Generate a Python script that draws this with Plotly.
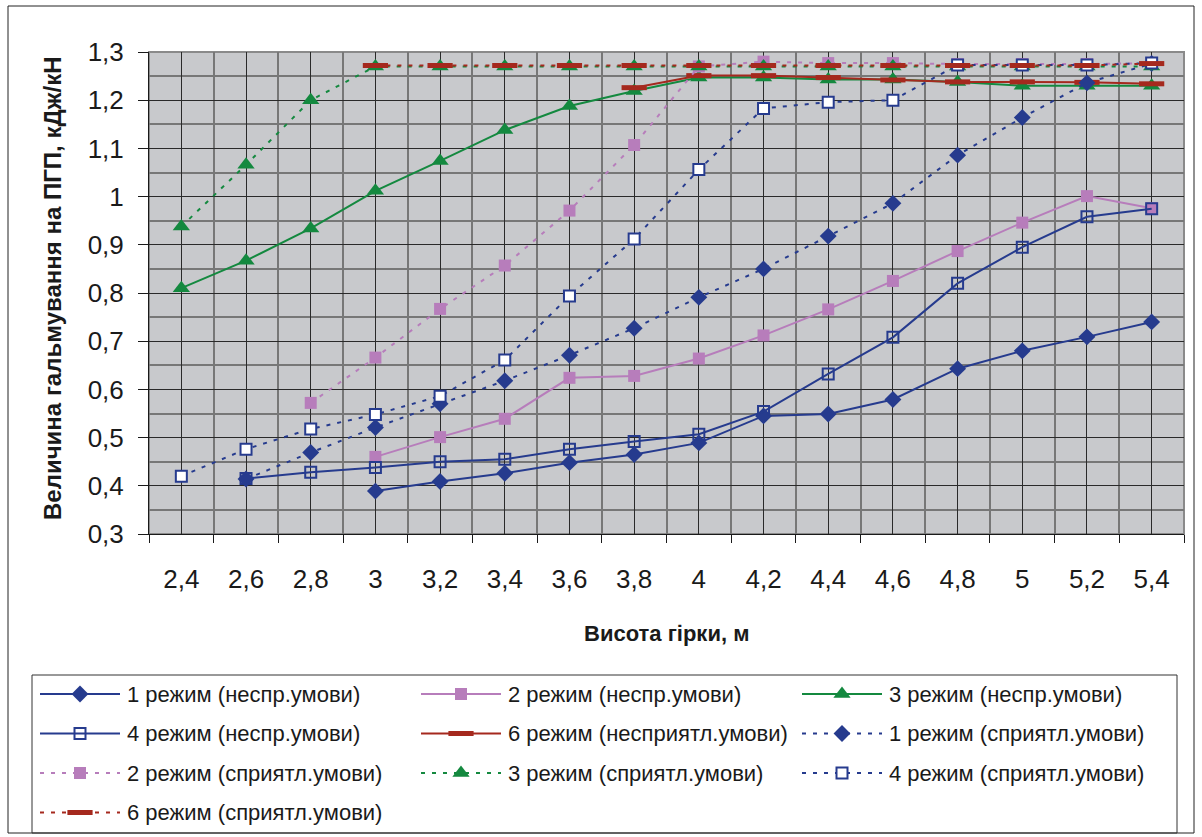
import plotly.graph_objects as go

# Висота гірки, м
heights = [2.4, 2.6, 2.8, 3.0, 3.2, 3.4, 3.6, 3.8, 4.0, 4.2, 4.4, 4.6, 4.8, 5.0, 5.2, 5.4]
height_labels = ["2,4", "2,6", "2,8", "3", "3,2", "3,4", "3,6", "3,8", "4",
                 "4,2", "4,4", "4,6", "4,8", "5", "5,2", "5,4"]

# Величина гальмування, кДж/кН — несприятливі умови
mode1_nesp = [None, None, None, 0.389, 0.409, 0.426, 0.448, 0.465, 0.489, 0.545, 0.549, 0.579, 0.643, 0.680, 0.709, 0.740]
mode2_nesp = [None, None, None, 0.460, 0.501, 0.539, 0.624, 0.628, 0.664, 0.712, 0.766, 0.825, 0.887, 0.946, 1.001, 0.976]
mode3_nesp = [0.810, 0.867, 0.934, 1.012, 1.074, 1.138, 1.188, 1.219, 1.247, 1.247, 1.243, 1.243, 1.238, 1.230, 1.230, 1.230]
mode4_nesp = [None, 0.415, 0.428, 0.438, 0.450, 0.455, 0.476, 0.492, 0.507, 0.554, 0.632, 0.708, 0.820, 0.895, 0.958, 0.975]
mode6_nesp = [None, None, None, None, None, None, None, 1.226, 1.251, 1.251, 1.247, 1.242, 1.238, 1.238, 1.237, 1.234]

# Сприятливі умови
mode1_spr = [None, 0.414, 0.469, 0.521, 0.570, 0.618, 0.671, 0.727, 0.791, 0.850, 0.918, 0.986, 1.086, 1.164, 1.236, 1.276]
mode2_spr = [None, None, 0.572, 0.666, 0.767, 0.857, 0.971, 1.107, 1.270, 1.280, 1.277, 1.277, 1.275, 1.275, 1.275, 1.277]
mode3_spr = [0.938, 1.066, 1.200, 1.270, 1.270, 1.270, 1.270, 1.270, 1.270, 1.270, 1.270, 1.270, 1.270, 1.270, 1.270, 1.270]
mode4_spr = [0.420, 0.476, 0.518, 0.548, 0.586, 0.661, 0.794, 0.912, 1.056, 1.183, 1.196, 1.200, 1.273, 1.273, 1.273, 1.277]
mode6_spr = [None, None, None, 1.272, 1.272, 1.272, 1.272, 1.272, 1.272, 1.272, 1.272, 1.272, 1.272, 1.272, 1.272, 1.276]

NAVY = "#263B8E"
PINK = "#B77DBB"
GREEN = "#14893F"
RED = "#A5291E"
PLOT_BG = "#C8C9CC"
DOT = "4px,7px"
FONT = "Arial, Liberation Sans, sans-serif"

W, H = 1202, 837
PLOT_L, PLOT_R, PLOT_T, PLOT_B = 149, 1184, 52, 534

diamond = dict(symbol="diamond", size=13, color=NAVY)
pink_sq = dict(symbol="square", size=12, color=PINK)
triangle = dict(symbol="triangle-up", size=15, color=GREEN)
open_sq = dict(symbol="square-open", size=11, color=NAVY, line=dict(width=2, color=NAVY))
white_sq = dict(symbol="square", size=11, color="white", line=dict(width=2, color=NAVY))
red_bar = dict(symbol="line-ew", size=18, color=RED, line=dict(width=5, color=RED))

series = [
    ("1 режим (неспр.умови)", mode1_nesp, NAVY, "solid", diamond),
    ("2 режим (неспр.умови)", mode2_nesp, PINK, "solid", pink_sq),
    ("3 режим (неспр.умови)", mode3_nesp, GREEN, "solid", triangle),
    ("4 режим (неспр.умови)", mode4_nesp, NAVY, "solid", open_sq),
    ("6 режим (несприятл.умови)", mode6_nesp, RED, "solid", red_bar),
    ("1 режим (сприятл.умови)", mode1_spr, NAVY, DOT, diamond),
    ("2 режим (сприятл.умови)", mode2_spr, PINK, DOT, pink_sq),
    ("3 режим (сприятл.умови)", mode3_spr, GREEN, DOT, triangle),
    ("4 режим (сприятл.умови)", mode4_spr, NAVY, DOT, white_sq),
    ("6 режим (сприятл.умови)", mode6_spr, RED, DOT, red_bar),
]

fig = go.Figure()

for name, values, color, dash, marker in series:
    fig.add_trace(go.Scatter(
        x=heights, y=values, name=name, mode="lines+markers",
        line=dict(color=color, width=2, dash=dash),
        marker=marker, connectgaps=False, showlegend=False,
        xaxis="x", yaxis="y",
    ))

# Legend drawn on a transparent overlay axis measured in pixels
LEG_X0, LEG_X1, LEG_Y0, LEG_Y1 = 32, 1177, 675, 833
COL_STEP, ROW_STEP = 381, 39.5
KEY_LEN = 80
annotations = []
for i, (name, values, color, dash, marker) in enumerate(series):
    row, col = divmod(i, 3)
    kx = 40 + col * COL_STEP
    ky = 694 + row * ROW_STEP
    fig.add_trace(go.Scatter(
        x=[kx, kx + KEY_LEN], y=[ky, ky], mode="lines",
        line=dict(color=color, width=2, dash=dash),
        showlegend=False, hoverinfo="skip", xaxis="x2", yaxis="y2",
    ))
    fig.add_trace(go.Scatter(
        x=[kx + KEY_LEN / 2], y=[ky], mode="markers", marker=marker,
        showlegend=False, hoverinfo="skip", xaxis="x2", yaxis="y2",
    ))
    annotations.append(dict(
        x=kx + KEY_LEN + 5, y=ky, xref="x2", yref="y2", text=name,
        showarrow=False, xanchor="left", yanchor="middle",
        font=dict(family=FONT, size=22, color="#1a1a1a"),
    ))

annotations.append(dict(
    x=52 / W, y=1 - 288 / H, xref="paper", yref="paper",
    text="<b>Величина гальмування на ПГП, кДж/кН</b>", textangle=-90,
    showarrow=False, xanchor="center", yanchor="middle",
    font=dict(family=FONT, size=24, color="#1a1a1a"),
))
annotations.append(dict(
    x=(PLOT_L + PLOT_R) / 2 / W, y=1 - 633 / H, xref="paper", yref="paper",
    text="<b>Висота гірки, м</b>",
    showarrow=False, xanchor="center", yanchor="middle",
    font=dict(family=FONT, size=22, color="#1a1a1a"),
))

shapes = [
    # plot area fill and border (under the gridlines)
    dict(type="rect", xref="paper", yref="paper",
         x0=PLOT_L / W, x1=PLOT_R / W, y0=1 - PLOT_B / H, y1=1 - PLOT_T / H,
         fillcolor=PLOT_BG, line=dict(color="#8a8a8a", width=2), layer="below"),
    # chart frame
    dict(type="rect", xref="paper", yref="paper",
         x0=8 / W, x1=1194 / W, y0=1 - 833 / H, y1=1 - 6 / H,
         line=dict(color="#222222", width=1), layer="below"),
    # legend box
    dict(type="rect", xref="paper", yref="paper",
         x0=LEG_X0 / W, x1=LEG_X1 / W, y0=1 - LEG_Y1 / H, y1=1 - LEG_Y0 / H,
         line=dict(color="#333333", width=1), layer="below"),
]

fig.update_layout(
    width=W, height=H, autosize=False,
    margin=dict(l=0, r=0, t=0, b=0, pad=0, autoexpand=False),
    paper_bgcolor="white",
    plot_bgcolor="rgba(0,0,0,0)",
    separators=", ",
    showlegend=False,
    font=dict(family=FONT, color="#1a1a1a"),
    annotations=annotations,
    shapes=shapes,
    xaxis=dict(
        domain=[PLOT_L / W, PLOT_R / W], range=[2.3, 5.5],
        tickmode="array", tickvals=heights, ticktext=height_labels,
        ticks="", ticklabelstandoff=22, automargin=False,
        tickfont=dict(family=FONT, size=26, color="#1a1a1a"),
        showgrid=True, gridcolor="#2a2a2a", gridwidth=1,
        minor=dict(tick0=2.3, dtick=0.2, ticks="outside", ticklen=8,
                   tickcolor="#1a1a1a", tickwidth=1,
                   showgrid=True, gridcolor="#777777", gridwidth=1.5),
        showline=True, linecolor="#1a1a1a", linewidth=1,
        zeroline=False, anchor="y",
    ),
    yaxis=dict(
        domain=[1 - PLOT_B / H, 1 - PLOT_T / H], range=[0.3, 1.3],
        dtick=0.1, tick0=0.3, automargin=False,
        ticks="outside", ticklen=10, tickcolor="#1a1a1a", tickwidth=1,
        ticklabelstandoff=9,
        tickfont=dict(family=FONT, size=26, color="#1a1a1a"),
        showgrid=True, gridcolor="#2a2a2a", gridwidth=1,
        minor=dict(dtick=0.05, showgrid=True, gridcolor="#777777", gridwidth=2),
        showline=True, linecolor="#1a1a1a", linewidth=1,
        zeroline=False, anchor="x",
    ),
    xaxis2=dict(domain=[0, 1], range=[0, W], visible=False, fixedrange=True,
                anchor="y2", automargin=False),
    yaxis2=dict(domain=[0, 1], range=[H, 0], visible=False, fixedrange=True,
                anchor="x2", automargin=False),
)

fig.write_html("out.html")
